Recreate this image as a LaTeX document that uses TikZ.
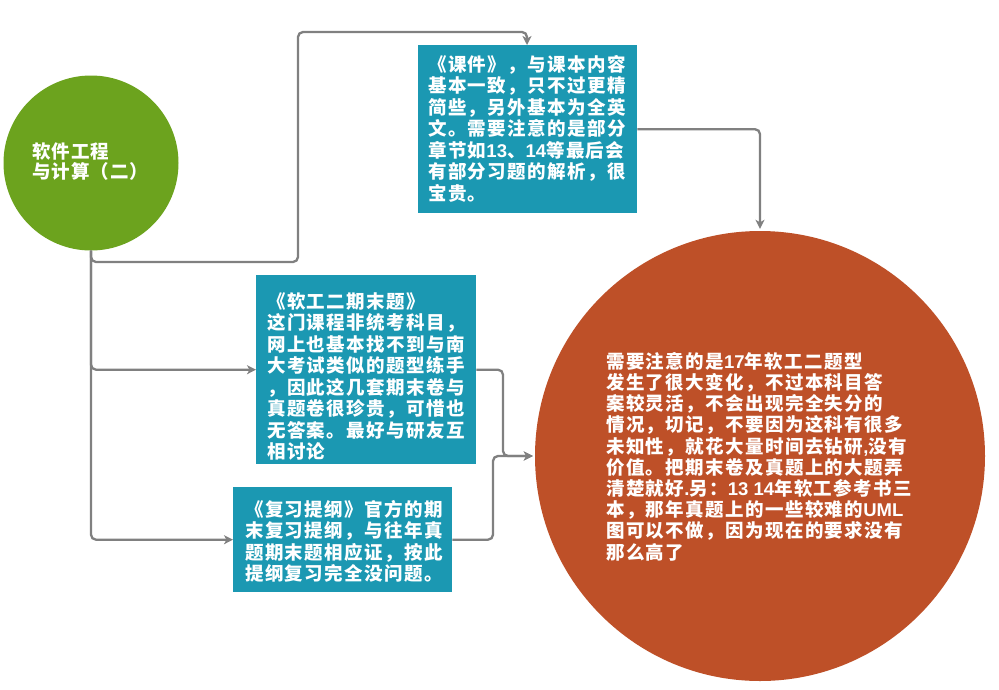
\documentclass[tikz,border=0pt]{standalone}
\usepackage{fontspec}
\newfontfamily\cjk{Noto Sans CJK SC}
\newfontfamily\latf{Liberation Sans}
\newcommand\lat[1]{{\latf\bfseries #1}}
\usetikzlibrary{arrows.meta}
\definecolor{cgreen}{RGB}{108,163,30}
\definecolor{cteal}{RGB}{27,152,178}
\definecolor{cred}{RGB}{190,80,40}
\definecolor{cline}{RGB}{128,128,128}
\begin{document}
\begin{tikzpicture}[x=1pt,y=-1pt,
  conn/.style={draw=cline, line width=2.3pt, rounded corners=5pt},
  arr/.style={-{Stealth[length=9pt,width=9pt,inset=2.5pt]}},
  boxnode/.style={fill=cteal, draw=none, inner sep=0pt, anchor=north west},
  txt/.style={text=white, inner sep=0pt, anchor=north west, align=left,
    font={\cjk\bfseries\fontsize{18.5}{21.5}\selectfont\addfontfeatures{LetterSpace=7.5}}},
]
\useasboundingbox[fill=white] (0,0) rectangle (999,689);

% shapes
\node[circle, fill=cgreen, minimum size=175pt, inner sep=0pt] (g) at (91,163) {};
\node[circle, fill=cred, minimum size=450pt, inner sep=0pt] (r) at (760,456) {};
\node[boxnode, minimum width=219pt, minimum height=168pt] (b1) at (418,45) {};
\node[boxnode, minimum width=220pt, minimum height=189pt] (b2) at (256,275) {};
\node[boxnode, minimum width=219pt, minimum height=105pt] (b3) at (233,487) {};

% texts
\node[txt, font={\cjk\bfseries\fontsize{18.5}{20}\selectfont\addfontfeatures{LetterSpace=5.5}}] (t0) at (32,142)
  {软件工程\\与计算（二）};
\node[txt] (t1) at (428,55)
  {《课件》，与课本内容\\基本一致，只不过更精\\简些，另外基本为全英\\文。需要注意的是部分\\章节如\lat{13}、\lat{14}等最后会\\有部分习题的解析，很\\宝贵。};
\node[txt] (t2) at (267,292)
  {《软工二期末题》\\这门课程非统考科目，\\网上也基本找不到与南\\大考试类似的题型练手\\，因此这几套期末卷与\\真题卷很珍贵，可惜也\\无答案。最好与研友互\\相讨论};
\node[txt] (t3) at (245,500)
  {《复习提纲》官方的期\\末复习提纲，与往年真\\题期末题相应证，按此\\提纲复习完全没问题。};
\node[txt, font={\cjk\bfseries\fontsize{18.5}{21.2}\selectfont\addfontfeatures{LetterSpace=7.5}}] (t4) at (606,352)
  {需要注意的是\lat{17}年软工二题型\\发生了很大变化，不过本科目答\\案较灵活，不会出现完全失分的\\情况，切记，不要因为这科有很多\\未知性，就花大量时间去钻研\lat{,}没有\\价值。把期末卷及真题上的大题弄\\清楚就好\lat{.}另：\lat{13 14}年软工参考书三\\本，那年真题上的一些较难的\lat{UML}\\图可以不做，因为现在的要求没有\\那么高了};

% connectors
\coordinate (k0) at (298,262);
\coordinate (k1) at (527,32);
\coordinate (m1) at (503,456);
\coordinate (m2) at (493,456);
\draw[conn, arr] (g.south) |- (k0) |- (k1) -- (k1 |- b1.north);
\draw[conn, arr] (g.south) |- (b2.west);
\draw[conn, arr] (g.south) |- (b3.west);
\draw[conn, arr, shorten >=2pt] (b2.east) -| (m1) -- (r.west);
\draw[conn, arr, shorten >=2pt] (b3.east) -| (m2) -- (r.west);
\draw[conn, arr, shorten >=2pt] (b1.east) -| (r.north);
\end{tikzpicture}
\end{document}
